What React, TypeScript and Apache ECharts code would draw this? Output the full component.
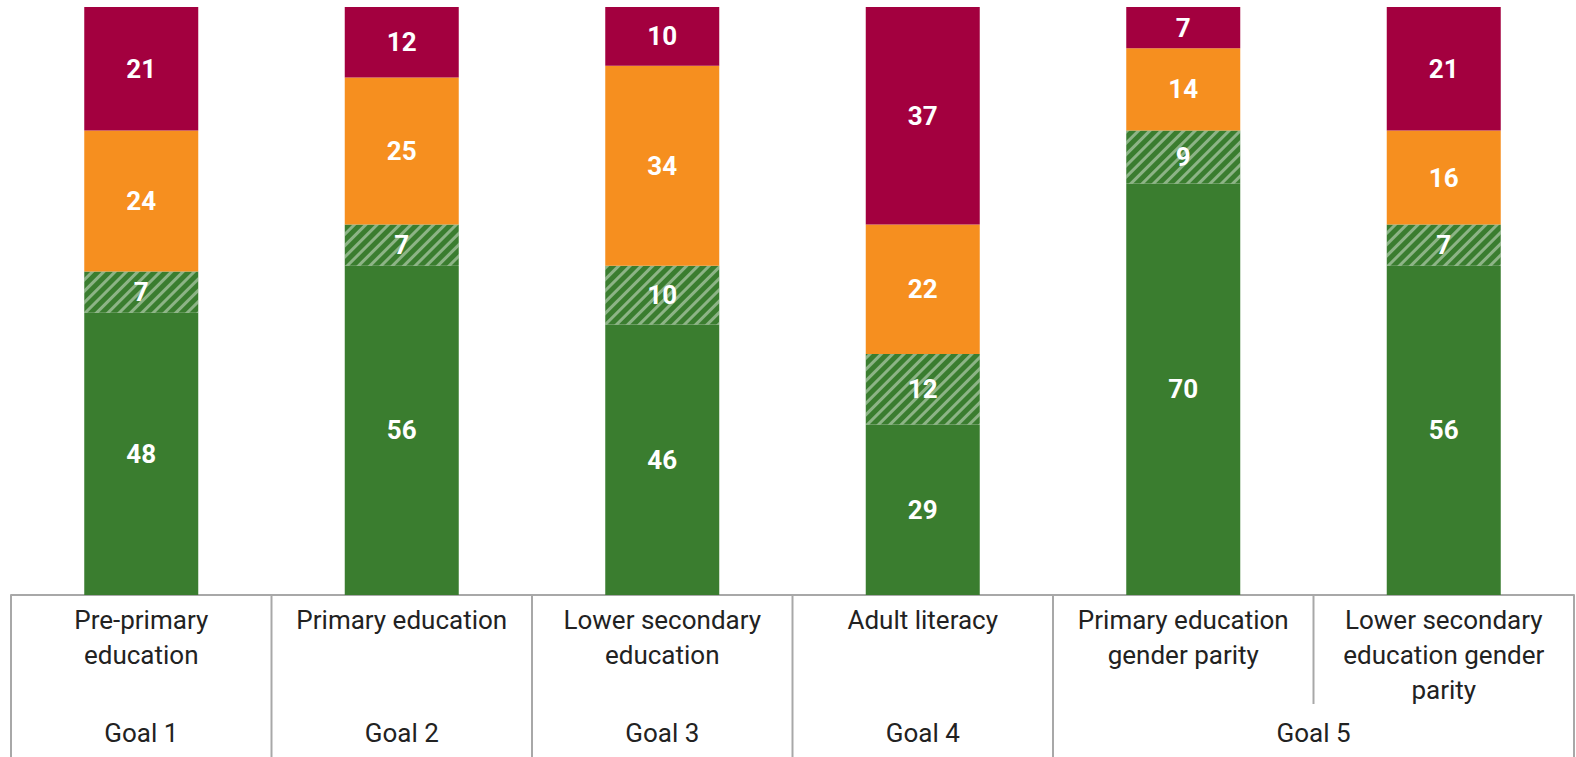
import React, { useEffect, useRef } from "react";
import * as echarts from "echarts";

const categories = [
  "Pre-primary education",
  "Primary education",
  "Lower secondary education",
  "Adult literacy",
  "Primary education gender parity",
  "Lower secondary education gender parity",
];
const categoryLabels = [
  "Pre-primary\neducation",
  "Primary education",
  "Lower secondary\neducation",
  "Adult literacy",
  "Primary education\ngender parity",
  "Lower secondary\neducation gender\nparity",
];
const goals = ["Goal 1", "Goal 2", "Goal 3", "Goal 4", "Goal 5"];
const goalSpans = [
  [0, 0],
  [1, 1],
  [2, 2],
  [3, 3],
  [4, 5],
];
const onTrack = [48, 56, 46, 29, 70, 56];
const nearTrack = [7, 7, 10, 12, 9, 7];
const offTrack = [24, 25, 34, 22, 14, 16];
const farOffTrack = [21, 12, 10, 37, 7, 21];

const GREEN = "#3a7d2f";
const ORANGE = "#f68f1f";
const CRIMSON = "#a3003f";
const LINE = "#a8a8a8";
const TEXT = "#222222";
const FONT = "Roboto, 'Noto Sans', sans-serif";

export default function App() {
  const ref = useRef<HTMLDivElement>(null);
  useEffect(() => {
    document.body.style.margin = "0";
    const chart = echarts.init(ref.current!, null, { renderer: "svg" });
    const label = {
      show: true,
      position: "inside",
      color: "#ffffff",
      fontSize: 26,
      fontWeight: "bold",
      fontFamily: FONT,
    };
    const gridTop = 7;
    const gridBottom = 162;
    chart.setOption({
      animation: false,
      grid: { left: 11, right: 2, top: gridTop, bottom: gridBottom },
      xAxis: {
        type: "category",
        data: categories,
        axisLine: { show: true, lineStyle: { color: LINE, width: 2 } },
        axisTick: { show: false },
        axisLabel: {
          interval: 0,
          formatter: (_v: string, i: number) => categoryLabels[i],
          fontSize: 26,
          fontFamily: FONT,
          color: TEXT,
          lineHeight: 35,
          margin: 7,
        },
      },
      yAxis: { type: "value", min: 0, max: 100, show: false },
      series: [
        {
          name: "On track",
          type: "bar",
          stack: "s",
          barWidth: 114,
          data: onTrack,
          itemStyle: { color: GREEN },
          label,
        },
        {
          name: "Near track",
          type: "bar",
          stack: "s",
          data: nearTrack,
          itemStyle: {
            color: GREEN,
            decal: {
              symbol: "rect",
              symbolSize: 1,
              dashArrayX: [1, 0],
              dashArrayY: [3, 5],
              rotation: -Math.PI / 4,
              color: "rgba(255,255,255,0.42)",
            },
          },
          label,
        },
        {
          name: "Off track",
          type: "bar",
          stack: "s",
          data: offTrack,
          itemStyle: { color: ORANGE },
          label,
        },
        {
          name: "Far off track",
          type: "bar",
          stack: "s",
          data: farOffTrack,
          itemStyle: { color: CRIMSON },
          label,
        },
      ],
    });

    const c0 = chart.convertToPixel({ xAxisIndex: 0 }, 0) as number;
    const c1 = chart.convertToPixel({ xAxisIndex: 0 }, 1) as number;
    const band = c1 - c0;
    const axisY = chart.convertToPixel({ yAxisIndex: 0 }, 0) as number;
    const H = 757;
    const elements: any[] = [];
    for (let i = 0; i <= categories.length; i++) {
      const x = c0 - band / 2 + i * band;
      const y2 = i === 5 ? axisY + 109 : H;
      elements.push({
        type: "line",
        shape: { x1: x, y1: axisY, x2: x, y2 },
        style: { stroke: LINE, lineWidth: 2 },
      });
    }
    goals.forEach((g, k) => {
      const [a, b] = goalSpans[k];
      const x = (c0 + a * band + c0 + b * band) / 2;
      elements.push({
        type: "text",
        x,
        y: axisY + 138,
        style: {
          text: g,
          fill: TEXT,
          fontSize: 26,
          fontFamily: FONT,
          align: "center",
          verticalAlign: "middle",
        },
      });
    });
    chart.setOption({ graphic: elements });
    return () => chart.dispose();
  }, []);
  return <div ref={ref} style={{ width: 1576, height: 757 }} />;
}
